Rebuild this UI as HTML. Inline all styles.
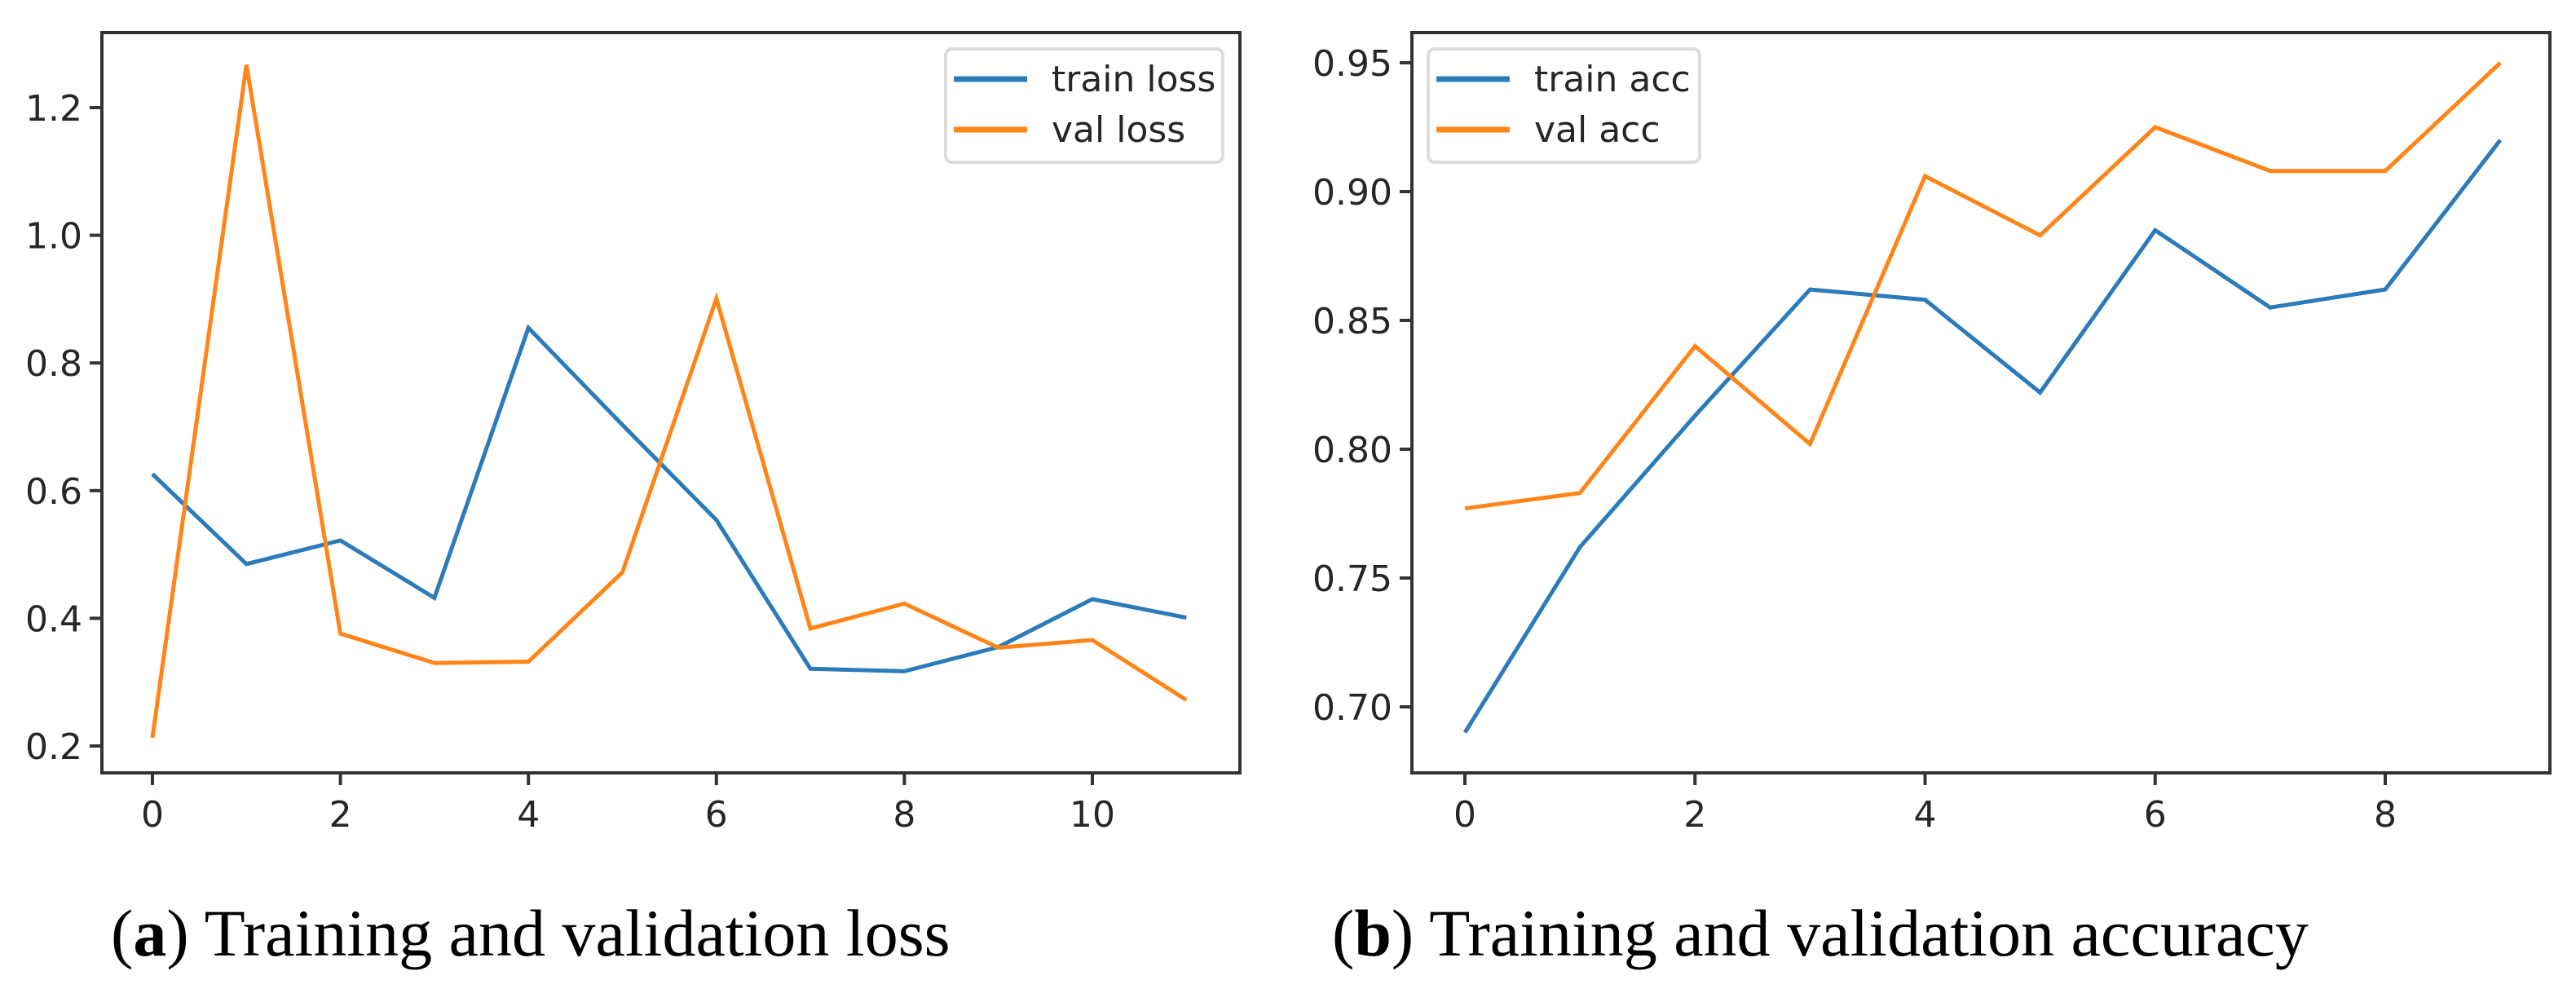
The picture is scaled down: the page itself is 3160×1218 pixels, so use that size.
<!DOCTYPE html>
<html><head><meta charset="utf-8"><style>
html,body{margin:0;padding:0;background:#fff;}
svg{display:block;}
.tick{font-family:"DejaVu Sans","Liberation Sans",sans-serif;font-size:44px;fill:#262626;}
.leg{font-family:"DejaVu Sans","Liberation Sans",sans-serif;font-size:44px;fill:#262626;}
.cap{font-family:"Liberation Serif",serif;font-size:82px;fill:#000;}
</style></head><body>
<svg id="fig" width="3160" height="1218" viewBox="0 0 3160 1218">
<g id="pa"></g>
<g id="pb"></g>
<text class="cap" x="136" y="1172">(<tspan font-weight="bold">a</tspan>) Training and validation loss</text>
<text class="cap" x="1634" y="1172">(<tspan font-weight="bold">b</tspan>) Training and validation accuracy</text>
</svg>
<script>
const lossEpochs=[0,1,2,3,4,5,6,7,8,9,10,11];
const trainLoss=[0.626,0.485,0.522,0.432,0.855,0.703,0.554,0.321,0.317,0.355,0.430,0.401];
const valLoss=[0.213,1.267,0.376,0.330,0.332,0.472,0.901,0.384,0.423,0.354,0.366,0.272];
const lossYTicks=[0.2,0.4,0.6,0.8,1.0,1.2];
const lossXTicks=[0,2,4,6,8,10];
const accEpochs=[0,1,2,3,4,5,6,7,8,9];
const trainAcc=[0.690,0.762,0.813,0.862,0.858,0.822,0.885,0.855,0.862,0.920];
const valAcc=[0.777,0.783,0.840,0.802,0.906,0.883,0.925,0.908,0.908,0.950];
const accYTicks=[0.70,0.75,0.80,0.85,0.90,0.95];
const accXTicks=[0,2,4,6,8];
const NS="http://www.w3.org/2000/svg";
function mk(tag,attrs,parent){const e=document.createElementNS(NS,tag);for(const k in attrs)e.setAttribute(k,attrs[k]);parent.appendChild(e);return e;}
function chart(g,cfg){
  const {box,x0,y0,xs1,ys1,series,xt,yt,ydec,legend}=cfg;
  const X=v=>x0+(v-xs1[0])*(xs1[1]-x0)/(xs1[2]-xs1[0]);
  const Y=v=>y0+(v-ys1[0])*(ys1[1]-y0)/(ys1[2]-ys1[0]);
  series.forEach(s=>{
    const p=mk('polyline',{points:s.y.map((v,i)=>X(s.x[i])+','+Y(v)).join(' '),fill:'none',stroke:s.c,'stroke-width':5,'stroke-linejoin':'miter'},g);
    
    
  });
  const fr=mk('rect',{x:box[0],y:box[1],width:box[2]-box[0],height:box[3]-box[1],fill:'none',stroke:'#333','stroke-width':4},g);
  
  
  yt.forEach(v=>{
    mk('line',{x1:box[0]-15,x2:box[0],y1:Y(v),y2:Y(v),stroke:'#333','stroke-width':4},g);
    const t=mk('text',{x:box[0]-24,y:Y(v)+16,'text-anchor':'end',class:'tick'},g);
    t.textContent=v.toFixed(ydec);
    
    
  });
  xt.forEach(v=>{
    mk('line',{x1:X(v),x2:X(v),y1:box[3],y2:box[3]+15,stroke:'#333','stroke-width':4},g);
    const t=mk('text',{x:X(v),y:box[3]+66,'text-anchor':'middle',class:'tick'},g);
    t.textContent=String(v);
    
    
  });
  const L=legend;
  const lb=mk('rect',{x:L.x,y:L.y,width:L.w,height:L.h,rx:8,fill:'#fff',stroke:'#dcdcdc','stroke-width':4},g);
  
  
  L.items.forEach((it,i)=>{
    const yy=L.y+37+i*62;
    mk('line',{x1:L.x+10,x2:L.x+100,y1:yy,y2:yy,stroke:it.c,'stroke-width':7},g);
    const t=mk('text',{x:L.x+130,y:yy+15,class:'leg'},g);
    t.textContent=it.t;
    
    
  });
}
chart(document.getElementById('pa'),{box:[125,40,1521,948],x0:187,y0:915,xs1:[0,1340,10],ys1:[0.2,132,1.2],
  series:[{x:lossEpochs,y:trainLoss,c:'#2b7bba',name:'train-loss-line'},{x:lossEpochs,y:valLoss,c:'#ff8519',name:'val-loss-line'}],
  xt:lossXTicks,yt:lossYTicks,ydec:1,
  legend:{x:1160,y:60,w:340,h:139,items:[{t:'train loss',c:'#2b7bba'},{t:'val loss',c:'#ff8519'}]}});
chart(document.getElementById('pb'),{box:[1732,40,3128,948],x0:1797,y0:867,xs1:[0,2926,8],ys1:[0.70,77,0.95],
  series:[{x:accEpochs,y:trainAcc,c:'#2b7bba',name:'train-acc-line'},{x:accEpochs,y:valAcc,c:'#ff8519',name:'val-acc-line'}],
  xt:accXTicks,yt:accYTicks,ydec:2,
  legend:{x:1752,y:60,w:333,h:139,items:[{t:'train acc',c:'#2b7bba'},{t:'val acc',c:'#ff8519'}]}});
</script>
</body></html>
